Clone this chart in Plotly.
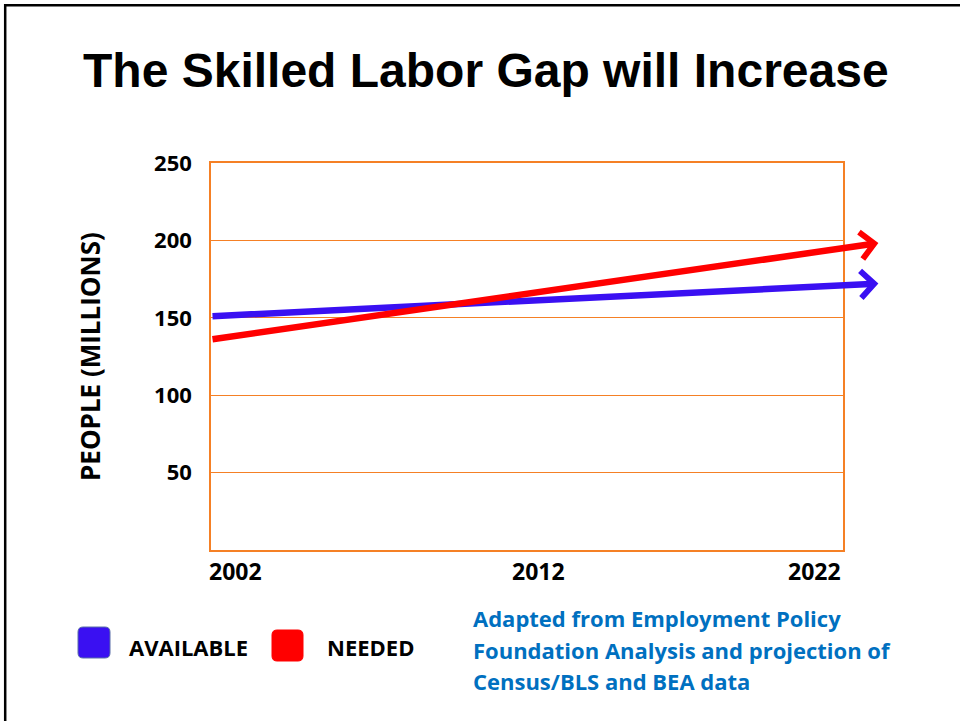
import plotly.graph_objects as go

# ---- data -------------------------------------------------------------
years = [2002, 2022]
available = [151, 171]      # people, millions
needed = [136, 195]         # people, millions
y_ticks = [50, 100, 150, 200, 250]
year_labels = ["2002", "2012", "2022"]
series_names = ["AVAILABLE", "NEEDED"]
series_colors = ["#3A10F2", "#FF0000"]
source_lines = [
    "Adapted from Employment Policy",
    "Foundation Analysis and projection of",
    "Census/BLS and BEA data",
]
arrow_tip_year = 2023.12    # arrows run a little past the last year

# ---- layout geometry --------------------------------------------------
W, H = 960, 721
L, R, T, B = 211, 843, 163, 550   # plot area in pixels
ORANGE = "#F58025"
LABEL_FONT = "'Open Sans', Lato, sans-serif"


def px(x):
    return (x - L) / (R - L)


def py(y):
    return (B - y) / (B - T)


fig = go.Figure()

# invisible trace so the axes exist with data
fig.add_trace(go.Scatter(x=years, y=available, mode="lines",
                         line=dict(width=0), showlegend=False, hoverinfo="skip"))

annotations = []
shapes = []

# trend arrows
for vals, color in zip([available, needed], series_colors):
    slope = (vals[1] - vals[0]) / (years[1] - years[0])
    tip_y = vals[0] + slope * (arrow_tip_year - years[0])
    annotations.append(dict(
        x=arrow_tip_year, y=tip_y, xref="x", yref="y",
        ax=years[0], ay=vals[0], axref="x", ayref="y",
        text="", showarrow=True, arrowhead=4, arrowsize=0.8,
        arrowwidth=6.5, arrowcolor=color, standoff=0,
    ))

# year labels beneath the axis
anchors = ["left", "center", "right"]
label_years = [2002, 2012.35, 2022]
shifts = [-4, 0, 0]
for lab, xv, anc, sh in zip(year_labels, label_years, anchors, shifts):
    annotations.append(dict(
        x=xv, y=py(571), xref="x", yref="paper", text=lab, showarrow=False,
        xanchor=anc, yanchor="middle", xshift=sh,
        font=dict(family=LABEL_FONT, size=23, color="black", weight="bold"),
    ))

# y-axis title
annotations.append(dict(
    x=px(90), y=py(357), xref="paper", yref="paper",
    text="PEOPLE (MILLIONS)", textangle=-90, showarrow=False,
    xanchor="center", yanchor="middle",
    font=dict(family=LABEL_FONT, size=26, color="black", weight="bold"),
))

# chart title
annotations.append(dict(
    x=px(486), y=py(70), xref="paper", yref="paper",
    text="The Skilled Labor Gap will Increase", showarrow=False,
    xanchor="center", yanchor="middle",
    font=dict(family="'Liberation Sans', Arial, sans-serif", size=48,
              color="black", weight="bold"),
))

# source note, one line per annotation for wider line spacing
for i, line in enumerate(source_lines):
    annotations.append(dict(
        x=px(471), y=py(618 + 31.5 * i), xref="paper", yref="paper",
        text=line, showarrow=False, xanchor="left", yanchor="middle",
        font=dict(family=LABEL_FONT, size=22, color="#0070C0", weight="bold"),
    ))


def rounded_rect(x0, y0, x1, y1, r):
    # rounded square in pixel space, converted to paper coordinates
    pts = [
        f"M {px(x0 + r)},{py(y0)}",
        f"L {px(x1 - r)},{py(y0)}",
        f"Q {px(x1)},{py(y0)} {px(x1)},{py(y0 + r)}",
        f"L {px(x1)},{py(y1 - r)}",
        f"Q {px(x1)},{py(y1)} {px(x1 - r)},{py(y1)}",
        f"L {px(x0 + r)},{py(y1)}",
        f"Q {px(x0)},{py(y1)} {px(x0)},{py(y1 - r)}",
        f"L {px(x0)},{py(y0 + r)}",
        f"Q {px(x0)},{py(y0)} {px(x0 + r)},{py(y0)}",
        "Z",
    ]
    return " ".join(pts)


# legend: swatches and names
legend_boxes = [(78, 627, 110, 658), (272, 630, 303, 661)]
legend_text_x = [127, 325]
border_colors = ["#5A6FA8", "#FF0000"]
for (x0, y0, x1, y1), tx, name, color, bc in zip(
        legend_boxes, legend_text_x, series_names, series_colors, border_colors):
    shapes.append(dict(type="path", xref="paper", yref="paper",
                       path=rounded_rect(x0, y0, x1, y1, 5),
                       fillcolor=color, line=dict(color=bc, width=1)))
    annotations.append(dict(
        x=px(tx), y=py(647), xref="paper", yref="paper", text=name,
        showarrow=False, xanchor="left", yanchor="middle",
        font=dict(family=LABEL_FONT, size=22, color="black", weight="bold"),
    ))

# page frame (top and left edges)
shapes.append(dict(type="line", xref="paper", yref="paper",
                   x0=px(4), x1=px(962), y0=py(5.2), y1=py(5.2),
                   line=dict(color="black", width=2.5)))
shapes.append(dict(type="line", xref="paper", yref="paper",
                   x0=px(5.2), x1=px(5.2), y0=py(4), y1=py(725),
                   line=dict(color="black", width=2.5)))

fig.update_layout(
    width=W, height=H,
    margin=dict(l=L, r=W - R, t=T, b=H - B),
    paper_bgcolor="white", plot_bgcolor="white",
    showlegend=False,
    annotations=annotations, shapes=shapes,
    xaxis=dict(range=[years[0], years[1]], showgrid=False, zeroline=False,
               showticklabels=False, ticks="", showline=True, mirror=True,
               linecolor=ORANGE, linewidth=1.6, fixedrange=True),
    yaxis=dict(range=[0, 250], tickvals=y_ticks, ticktext=[str(v) for v in y_ticks],
               showgrid=True, gridcolor=ORANGE, gridwidth=1.2, zeroline=False,
               showline=True, mirror=True, linecolor=ORANGE, linewidth=1.6,
               ticks="", ticklabelstandoff=13,
               tickfont=dict(family=LABEL_FONT, size=22, color="black", weight="bold"),
               fixedrange=True),
)

fig.write_html("out.html")
